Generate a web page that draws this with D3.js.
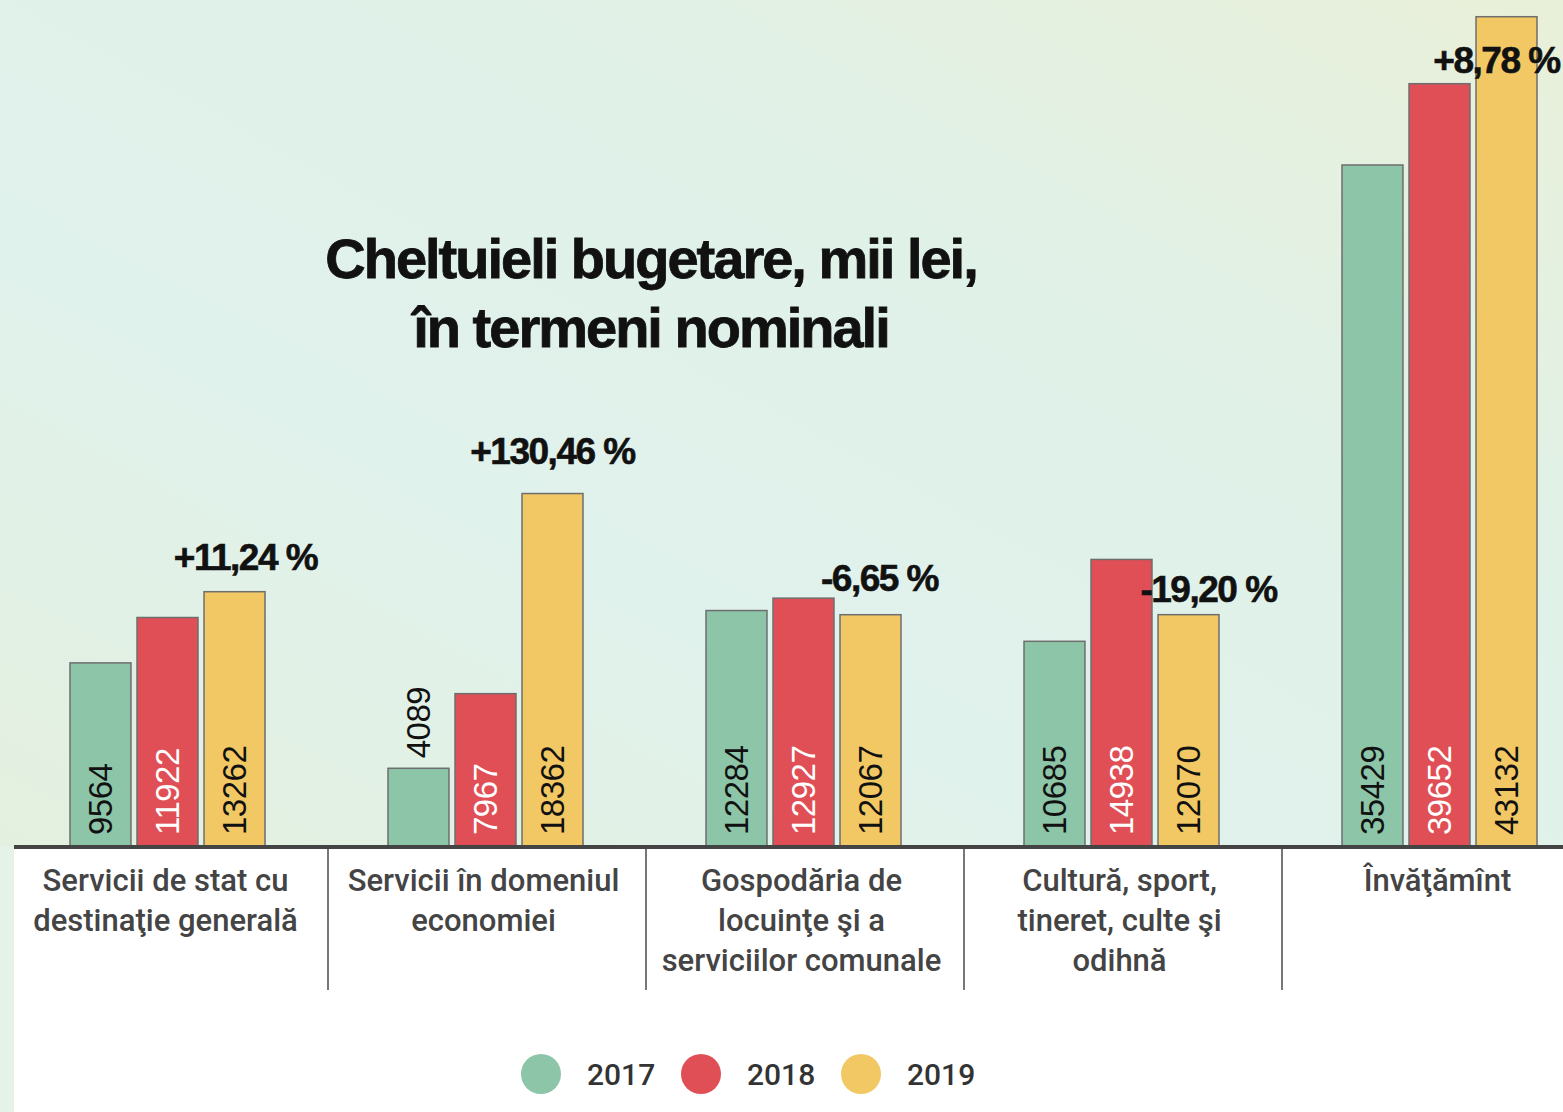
<!DOCTYPE html>
<html>
<head>
<meta charset="utf-8">
<script src="https://cdn.jsdelivr.net/npm/d3@7"></script>
<style>
  html, body { margin: 0; padding: 0; background: #ffffff; }
  svg { display: block; }
</style>
</head>
<body>
<svg id="chart" width="1563" height="1112"></svg>
<script>
// ---- DATA ----
const categories = [
  ["Servicii de stat cu", "destinaţie generală"],
  ["Servicii în domeniul", "economiei"],
  ["Gospodăria de", "locuinţe şi a", "serviciilor comunale"],
  ["Cultură, sport,", "tineret, culte şi", "odihnă"],
  ["Învăţămînt"]
];
const years = ["2017", "2018", "2019"];
const values2017 = [9564, 4089, 12284, 10685, 35429];
const values2018 = [11922, 7967, 12927, 14938, 39652];
const values2019 = [13262, 18362, 12067, 12070, 43132];
const changeLabels = ["+11,24 %", "+130,46 %", "-6,65 %", "-19,20 %", "+8,78 %"];
const titleLines = ["Cheltuieli bugetare, mii lei,", "în termeni nominali"];

// ---- LAYOUT / STYLE ----
const W = 1563, H = 1112;
const baseY = 847;
const colors = { "2017": "#8cc5a7", "2018": "#e04f56", "2019": "#f2c864" };
const labelColors = { "2017": "#111", "2018": "#fff", "2019": "#111" };
// manual nudges for the change labels (relative to the 2019 bar: dx, baseline offset from bar top)
const changeOffsets = [[11, -22], [0, -30], [9, -24], [20, -13], [-10, 56]];

const svg = d3.select("#chart");
const defs = svg.append("defs");
const grad = defs.append("linearGradient").attr("id", "bg")
  .attr("x1", "0%").attr("y1", "100%").attr("x2", "100%").attr("y2", "0%");
grad.append("stop").attr("offset", "0%").attr("stop-color", "#e4f0df");
grad.append("stop").attr("offset", "35%").attr("stop-color", "#e0f2ec");
grad.append("stop").attr("offset", "65%").attr("stop-color", "#e0f1e8");
grad.append("stop").attr("offset", "100%").attr("stop-color", "#e9f0d9");

svg.append("rect").attr("x", 0).attr("y", 0).attr("width", W).attr("height", baseY).attr("fill", "url(#bg)");
svg.append("rect").attr("x", 0).attr("y", baseY).attr("width", 14).attr("height", H - baseY).attr("fill", "#e4f2e8");
svg.append("rect").attr("x", 14).attr("y", baseY).attr("width", W - 14).attr("height", H - baseY).attr("fill", "#ffffff");

const catKeys = categories.map((c, i) => i);
const x0 = d3.scaleBand().domain(catKeys).range([10, 1600]).paddingInner(0).paddingOuter(0);
const x1 = d3.scaleBand().domain(years).range([60, 255]).paddingInner(0.09).paddingOuter(0);
const y = d3.scaleLinear().domain([0, 44000]).range([baseY, 0]);

const series = { "2017": values2017, "2018": values2018, "2019": values2019 };
const rows = [];
catKeys.forEach(i => years.forEach(yr => rows.push({ cat: i, year: yr, value: series[yr][i] })));

// Title
const title = svg.append("text")
  .attr("text-anchor", "middle")
  .attr("font-family", "'Liberation Sans', Arial, sans-serif")
  .attr("font-weight", "bold")
  .attr("font-size", 56)
  .attr("letter-spacing", "-2px")
  .attr("fill", "#111")
  .attr("stroke", "#111")
  .attr("stroke-width", 0.8);
titleLines.forEach((t, i) => {
  title.append("tspan").attr("x", 651).attr("y", 278 + i * 69).text(t);
});

// Bars
const g = svg.append("g");
g.selectAll("rect.bar").data(rows).enter().append("rect")
  .attr("class", "bar")
  .attr("x", d => x0(d.cat) + x1(d.year))
  .attr("y", d => y(d.value))
  .attr("width", x1.bandwidth())
  .attr("height", d => baseY - y(d.value))
  .attr("fill", d => colors[d.year])
  .attr("stroke", "#6e6e6e")
  .attr("stroke-width", 1.5);

// Value labels (rotated)
const fontSizeVal = 33;
g.selectAll("text.val").data(rows).enter().append("text")
  .attr("class", "val")
  .attr("font-family", "'Liberation Sans', Arial, sans-serif")
  .attr("font-size", fontSizeVal)
  .attr("dy", "0.36em")
  .attr("text-anchor", "start")
  .attr("letter-spacing", "-0.5px")
  .each(function(d) {
    const cx = x0(d.cat) + x1(d.year) + x1.bandwidth() / 2;
    const barH = baseY - y(d.value);
    const inside = barH > 110;
    const startY = inside ? baseY - 12 : y(d.value) - 10;
    d3.select(this)
      .attr("transform", `translate(${cx},${startY}) rotate(-90)`)
      .attr("fill", inside ? labelColors[d.year] : "#111");
  })
  .text(d => d.value);

// Change labels
g.selectAll("text.chg").data(changeLabels).enter().append("text")
  .attr("class", "chg")
  .attr("font-family", "'Liberation Sans', Arial, sans-serif")
  .attr("font-weight", "bold")
  .attr("font-size", 37)
  .attr("letter-spacing", "-1.5px")
  .attr("text-anchor", "middle")
  .attr("fill", "#111")
  .attr("stroke", "#111")
  .attr("stroke-width", 0.6)
  .attr("x", (d, i) => x0(i) + x1("2019") + x1.bandwidth() / 2 + changeOffsets[i][0])
  .attr("y", (d, i) => y(values2019[i]) + changeOffsets[i][1])
  .text(d => d);

// Axis baseline
svg.append("line").attr("x1", 14).attr("x2", W).attr("y1", baseY).attr("y2", baseY)
  .attr("stroke", "#444").attr("stroke-width", 4);

// Dividers
svg.selectAll("line.div").data(catKeys.slice(1)).enter().append("line")
  .attr("class", "div")
  .attr("x1", d => x0(d)).attr("x2", d => x0(d))
  .attr("y1", baseY + 2).attr("y2", 990)
  .attr("stroke", "#777").attr("stroke-width", 2);

// Category labels
const catG = svg.selectAll("text.cat").data(categories).enter().append("text")
  .attr("class", "cat")
  .attr("text-anchor", "middle")
  .attr("font-family", "Roboto, sans-serif")
  .attr("font-weight", 500)
  .attr("font-size", 31)
  .attr("fill", "#444");
catG.each(function(lines, i) {
  const cx = x0(i) + 60 + 195 / 2 - 2;
  lines.forEach((ln, j) => {
    d3.select(this).append("tspan").attr("x", cx).attr("y", 891 + j * 40).text(ln);
  });
});

// Legend
const legendX = d3.scalePoint().domain(years).range([541, 861]);
const leg = svg.selectAll("g.leg").data(years).enter().append("g").attr("class", "leg");
leg.append("circle").attr("cx", d => legendX(d)).attr("cy", 1074).attr("r", 20)
  .attr("fill", d => colors[d]);
leg.append("text").attr("x", d => legendX(d) + 46).attr("y", 1085)
  .attr("font-family", "Roboto, sans-serif").attr("font-weight", 500)
  .attr("font-size", 30).attr("fill", "#333").text(d => d);
</script>
</body>
</html>
